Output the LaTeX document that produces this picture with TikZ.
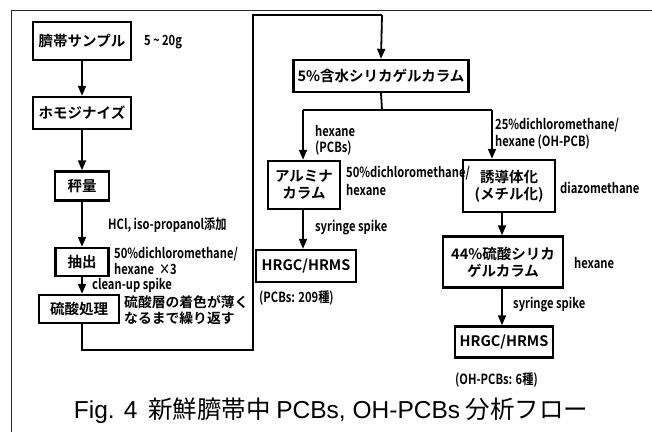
\documentclass[tikz,border=0pt]{standalone}
\usepackage{fontspec}
\usetikzlibrary{arrows.meta}
\setmainfont{Noto Sans CJK JP}[BoldFont={Noto Sans CJK JP Bold}]
\newfontfamily\condf[FakeStretch=0.8]{Noto Sans CJK JP}[BoldFont={Noto Sans CJK JP Bold}]
\newfontfamily\capf{Liberation Sans}
\begin{document}
\begin{tikzpicture}[x=1pt,y=-1pt,
  box/.style={draw=black,line width=2.4pt,inner sep=0pt,align=center,font=\fontsize{14.5}{17}\selectfont\bfseries},
  lbl/.style={anchor=west,inner sep=0pt,font=\condf\fontsize{14}{16}\selectfont\bfseries},
  jlbl/.style={anchor=west,inner sep=0pt,align=left,font=\fontsize{13.8}{16}\selectfont\bfseries},
  conn/.style={line width=1.8pt},
  arr/.style={line width=1.8pt,-{Triangle[width=8pt,length=10pt]}}]
\useasboundingbox (0,0) rectangle (652,431);
% outer frame
\draw[line width=0.9pt,draw=black!85] (11,432) -- (11,10) -- (653,10);
% boxes
\node[box,minimum width=98pt,minimum height=38pt] (b1) at (82,41) {臍帯サンプル};
\node[box,minimum width=98pt,minimum height=32pt] (b2) at (82,113) {ホモジナイズ};
\node[box,minimum width=54pt,minimum height=29pt] (b3) at (82,186) {秤量};
\node[box,minimum width=53pt,minimum height=28pt] (b4) at (82,262) {抽出};
\node[box,minimum width=80pt,minimum height=28pt] (b5) at (79,309) {硫酸処理};
\node[box,minimum width=175pt,minimum height=32pt] (b6) at (381,76) {5\%含水シリカゲルカラム};
\node[box,minimum width=72pt,minimum height=48pt] (b7) at (304,185) {アルミナ\\カラム};
\node[box,minimum width=100pt,minimum height=32pt] (b8) at (306,266) {HRGC/HRMS};
\node[box,minimum width=92pt,minimum height=52pt] (b9) at (509,186) {誘導体化\\(メチル化)};
\node[box,minimum width=120pt,minimum height=51pt] (b10) at (503,262) {44\%硫酸シリカ\\ゲルカラム};
\node[box,minimum width=98pt,minimum height=31pt] (b11) at (504,342) {HRGC/HRMS};
% connectors
\draw[arr] (b1) -- (b2);
\draw[arr] (b2) -- (b3);
\draw[arr] (b3) -- (b4);
\draw[arr] (b4) -- (b4|-b5.north);
\coordinate (l1) at (82,350);
\coordinate (l2) at (253,350);
\coordinate (l3) at (253,15);
\coordinate (l4) at (382,15);
\draw[conn] (b5.south-|l1) -- (l1) -- (l2) -- (l3) -- (l4);
\draw[arr] (l4) -- (b6.north);
\coordinate (s0) at (382,110);
\coordinate (sl) at (303,110);
\coordinate (sr) at (492,110);
\draw[conn] (b6.south) -- (s0);
\draw[conn] (sl) -- (sr);
\draw[arr] (sl) -- (sl|-b7.north);
\draw[arr] (sr) -- (sr|-b9.north);
\draw[arr] (b7.south-|sl) -- (sl|-b8.north);
\coordinate (rc) at (502,0);
\draw[arr] (b9.south-|rc) -- (rc|-b10.north);
\draw[arr] (b10.south-|rc) -- (rc|-b11.north);
% labels
\node[lbl] (t1) at (144,42) {5\,\textasciitilde\,20g};
\node[lbl] (t2) at (108,225) {HCl, iso-propanol添加};
\node[lbl] (t3) at (114,254) {50\%dichloromethane/};
\node[lbl] (t4) at (114,269) {hexane \,×3};
\node[lbl] (t5) at (92,285) {clean-up spike};
\node[jlbl] (t6) at (124,302) {硫酸層の着色が薄く};
\node[jlbl] (t7) at (124,318) {なるまで繰り返す};
\node[lbl] (t8) at (315,131) {hexane};
\node[lbl] (t9) at (315,148) {(PCBs)};
\node[lbl] (t10) at (495,125) {25\%dichloromethane/};
\node[lbl] (t11) at (495,142) {hexane (OH-PCB)};
\node[lbl] (t12) at (346,173) {50\%dichloromethane/};
\node[lbl] (t13) at (346,190) {hexane};
\node[lbl] (t14) at (560,188) {diazomethane};
\node[lbl] (t15) at (315,228) {syringe spike};
\node[lbl] (t16) at (259,298) {(PCBs: 209種)};
\node[lbl] (t17) at (574,263) {hexane};
\node[lbl] (t18) at (513,305) {syringe spike};
\node[lbl] (t19) at (455,380) {(OH-PCBs: 6種)};
\node[inner sep=0pt,font=\fontsize{24.5}{28}\selectfont] (cap) at (331,411) {{\capf Fig. 4}\ \ 新鮮臍帯中 {\capf PCBs, OH-PCBs} 分析フロー};
\end{tikzpicture}
\end{document}
